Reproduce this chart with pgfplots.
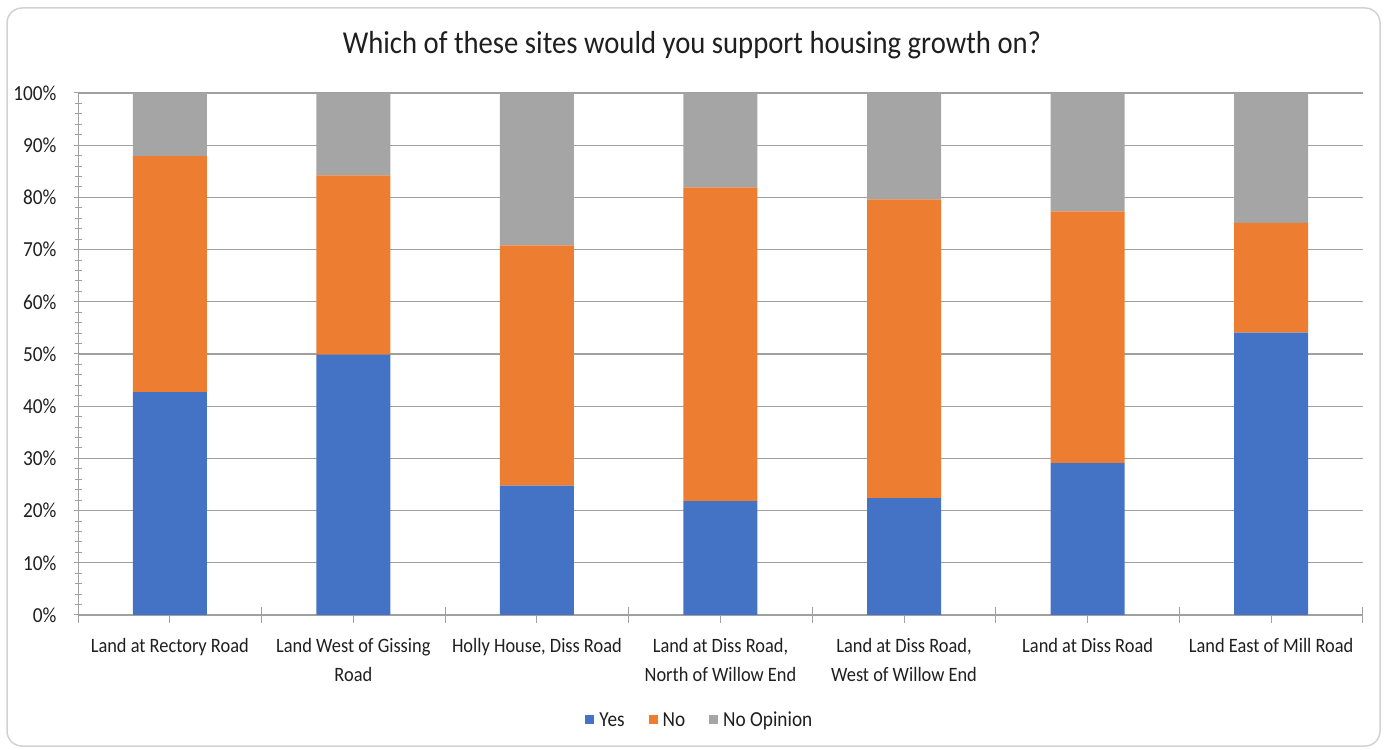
\documentclass[border=0pt]{standalone}
\usepackage{pgfplots}
\pgfplotsset{compat=1.18}
\usepackage{fontspec}
\setmainfont[FakeStretch=0.9]{Carlito}
\definecolor{cblue}{HTML}{4472C4}
\definecolor{corange}{HTML}{ED7D31}
\definecolor{cgray}{HTML}{A5A5A5}
\definecolor{gridc}{HTML}{A0A0A0}
\definecolor{txt}{HTML}{1F1F1F}
\begin{document}
\begin{tikzpicture}[x=1bp,y=1bp]
\useasboundingbox (0,0) rectangle (1384,749);
\draw[color=gray!35, line width=1.5bp, rounded corners=15bp] (7,3) rectangle (1380,741);
\node[font=\fontsize{32}{38}\selectfont, text=txt] at (692,704) {Which of these sites would you support housing growth on?};
\begin{axis}[
  at={(78bp,134bp)}, anchor=south west, scale only axis,
  width=1285bp, height=522bp,
  ybar stacked, bar width=74bp,
  xmin=-0.5, xmax=6.5, ymin=0, ymax=100,
  axis lines*=left,
  axis line style={gridc, line width=1bp},
  xtick={0,...,6},
  xticklabels={Land at Rectory Road, Land West of Gissing\\Road, {Holly House, Diss Road}, {Land at Diss Road,\\North of Willow End}, {Land at Diss Road,\\West of Willow End}, Land at Diss Road, Land East of Mill Road},
  xticklabel style={align=center, font=\fontsize{20.5}{29}\selectfont, text=txt, yshift=-12bp},
  extra x ticks={-0.5,0.5,1.5,2.5,3.5,4.5,5.5,6.5},
  extra x tick labels={},
  extra x tick style={major tick length=16bp, xtick align=center, grid=none},
  xtick align=outside,
  x tick style={gridc, line width=1bp},
  major tick length=8bp,
  ytick={0,10,...,100},
  minor y tick num=4,
  ytick align=center,
  y tick style={gridc, line width=1bp},
  minor tick length=7bp,
  ymajorgrids,
  major grid style={gridc, line width=1.3bp},
  yticklabel={\pgfmathprintnumber{\tick}\%},
  yticklabel style={font=\fontsize{21.5}{24}\selectfont, text=txt, xshift=-14bp},
  /pgf/number format/assume math mode=true,
  legend style={at={(0.484,-0.201)}, anchor=center, draw=none, legend columns=3, font=\fontsize{21.5}{26}\selectfont, text=txt, /tikz/every even column/.append style={column sep=22bp}, /tikz/every odd column/.append style={column sep=3bp}},
  legend image code/.code={\fill[#1] (0bp,-4.5bp) rectangle (9bp,4.5bp);},
]
\addplot[fill=cblue, draw=none] coordinates {(0,42.7) (1,49.9) (2,24.8) (3,21.8) (4,22.4) (5,29.1) (6,54.1)};
\addplot[fill=corange, draw=none] coordinates {(0,45.2) (1,34.3) (2,46.0) (3,60.1) (4,57.2) (5,48.2) (6,21.0)};
\addplot[fill=cgray, draw=none] coordinates {(0,12.1) (1,15.8) (2,29.2) (3,18.1) (4,20.4) (5,22.7) (6,24.9)};
\legend{Yes, No, No Opinion}
\end{axis}
\end{tikzpicture}
\end{document}
